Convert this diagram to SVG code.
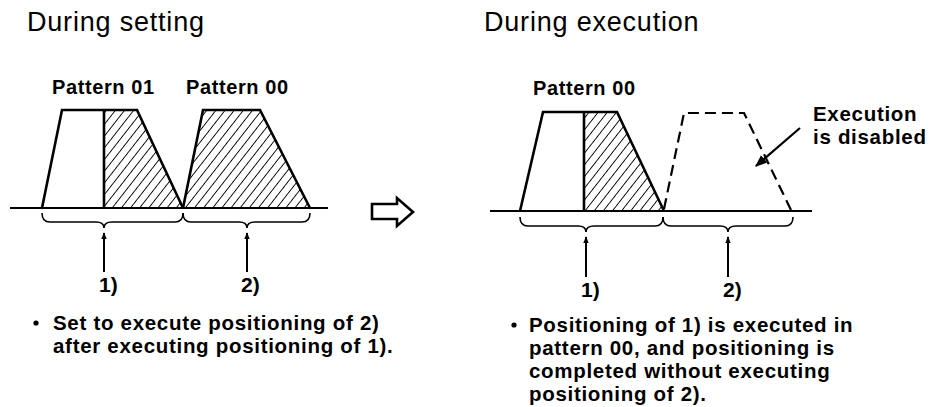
<svg xmlns="http://www.w3.org/2000/svg" width="932" height="407" viewBox="0 0 932 407">
<defs>
<pattern id="hatch" width="7.2" height="7.2" patternUnits="userSpaceOnUse" patternTransform="rotate(38)">
<line x1="0" y1="-1" x2="0" y2="9" stroke="#000" stroke-width="1.8"/>
</pattern>
<marker id="ah" viewBox="0 0 10 10" refX="9" refY="5" markerWidth="7" markerHeight="7" orient="auto" markerUnits="userSpaceOnUse">
<path d="M0,1 L10,5 L0,9 Z" fill="#000"/>
</marker>
<marker id="ah2" viewBox="0 0 10 10" refX="9" refY="5" markerWidth="12" markerHeight="12" orient="auto" markerUnits="userSpaceOnUse">
<path d="M0,1 L10,5 L0,9 Z" fill="#000"/>
</marker>
</defs>
<style>
.title{font-family:"Liberation Sans",Arial,sans-serif;font-size:27px;letter-spacing:0.8px;fill:#000}
.lbl{font-family:"Liberation Sans",Arial,sans-serif;font-size:20px;font-weight:bold;letter-spacing:0.6px;fill:#000}
.body{font-family:"Liberation Sans",Arial,sans-serif;font-size:20.5px;font-weight:bold;letter-spacing:0.7px;fill:#000}
.num{font-family:"Liberation Sans",Arial,sans-serif;font-size:21px;font-weight:bold;fill:#000}
.shape{fill:none;stroke:#000;stroke-width:2.6;stroke-linejoin:miter}
.hatch{fill:url(#hatch);stroke:none}
.base{stroke:#000;stroke-width:2.2}
.brace{fill:none;stroke:#000;stroke-width:1.6}
.arr{stroke:#000;stroke-width:2;marker-end:url(#ah)}
.dash{fill:none;stroke:#000;stroke-width:2.2;stroke-dasharray:11 6}
</style>

<text class="title" x="27" y="31">During setting</text>
<text class="title" x="484" y="31">During execution</text>

<g id="left-diagram">
<g id="pattern01">
<polygon class="hatch" points="104,110 137,110 183,208 104,208"/>
<polyline class="shape" points="42,208 62,110 137,110 183,208"/>
<line class="shape" x1="104" y1="110" x2="104" y2="208"/>
<text class="lbl" x="52" y="94">Pattern 01</text>
</g>
<g id="pattern00-left">
<polygon class="hatch" points="183,208 203,110 260,110 310,208"/>
<polyline class="shape" points="183,208 203,110 260,110 310,208"/>
<text class="lbl" x="186" y="94">Pattern 00</text>
</g>
<line class="base" x1="10" y1="208" x2="328" y2="208"/>
</g>

<g id="right-diagram">
<g id="pattern00-right">
<polygon class="hatch" points="584,112 617,112 664,211 584,211"/>
<polyline class="shape" points="520,211 543,112 617,112 664,211"/>
<line class="shape" x1="584" y1="112" x2="584" y2="211"/>
<text class="lbl" x="533" y="95">Pattern 00</text>
</g>
<g id="disabled">
<polyline class="dash" points="664,209 684,113 744,113 791,210"/>
<text class="body" x="813" y="121">Execution</text>
<text class="body" x="813" y="144">is disabled</text>
</g>
<line class="base" x1="490" y1="211" x2="812" y2="211"/>
</g>

<g id="connectors">
<path class="brace" d="M42,213 Q42,222 50,222 L96,222 Q104,222 104,228 Q104,222 112,222 L175,222 Q183,222 183,213"/>
<path class="brace" d="M183,213 Q183,222 191,222 L239,222 Q247,222 247,228 Q247,222 255,222 L302,222 Q310,222 310,213"/>
<line class="arr" x1="104" y1="272" x2="104" y2="233"/>
<line class="arr" x1="247" y1="272" x2="247" y2="233"/>
<path class="brace" d="M520,217 Q520,226 528,226 L578,226 Q586,226 586,232 Q586,226 594,226 L655,226 Q663,226 663,217"/>
<path class="brace" d="M663,217 Q663,226 671,226 L720,226 Q728,226 728,232 Q728,226 736,226 L785,226 Q793,226 793,217"/>
<line class="arr" x1="586" y1="277" x2="586" y2="237"/>
<line class="arr" x1="728" y1="277" x2="728" y2="237"/>
<line x1="800" y1="128" x2="756" y2="166" stroke="#000" stroke-width="2.2" marker-end="url(#ah2)"/>
<path d="M372,204 L397,204 L397,198 L413,212 L397,226 L397,219 L372,219 Z" fill="none" stroke="#000" stroke-width="2.6" stroke-linejoin="miter"/>
</g>

<text class="num" x="99" y="292">1)</text>
<text class="num" x="241" y="292">2)</text>
<text class="num" x="581" y="297">1)</text>
<text class="num" x="723" y="297">2)</text>

<g id="note-left">
<circle cx="36" cy="323" r="2.6" fill="#000"/>
<text class="body" x="53" y="330">Set to execute positioning of 2)</text>
<text class="body" x="53" y="353">after executing positioning of 1).</text>
</g>
<g id="note-right">
<circle cx="514" cy="325" r="2.6" fill="#000"/>
<text class="body" x="529" y="332">Positioning of 1) is executed in</text>
<text class="body" x="529" y="355">pattern 00, and positioning is</text>
<text class="body" x="529" y="378">completed without executing</text>
<text class="body" x="529" y="401">positioning of 2).</text>
</g>
</svg>
